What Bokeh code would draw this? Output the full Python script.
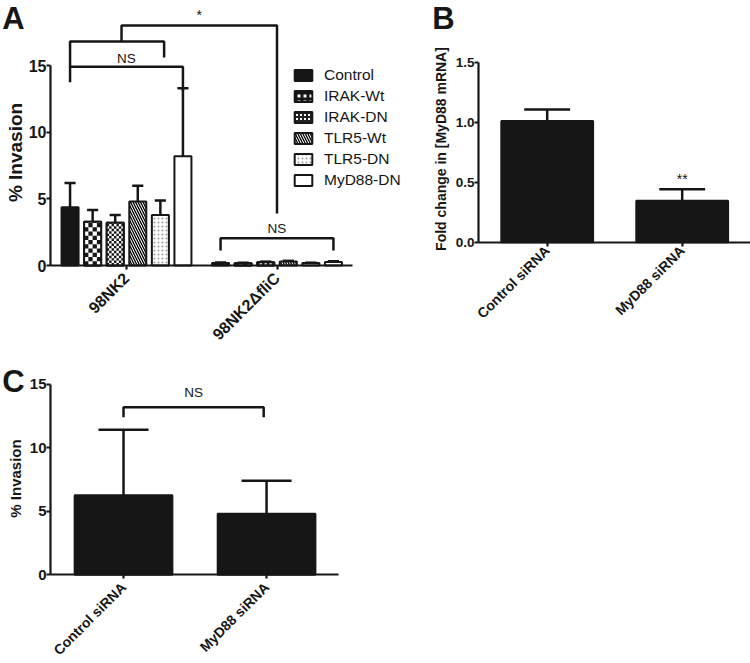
import math
from bokeh.plotting import figure
from bokeh.models import (ColumnDataSource, FixedTicker, Legend, LegendItem,
                          Label, NumeralTickFormatter)
from bokeh.layouts import row, column
from bokeh.embed import file_html
from bokeh.resources import INLINE
from bokeh.core.properties import value

FONT = "Liberation Sans"

# ---------------- data ----------------
# Panel A: % invasion, six constructs in two strains
groups_a = ["98NK2", "98NK2\u0394fliC"]
series_a = ["Control", "IRAK-Wt", "IRAK-DN", "TLR5-Wt", "TLR5-DN", "MyD88-DN"]
mean_98nk2 = [4.37, 3.28, 3.20, 4.80, 3.79, 8.20]
sem_98nk2 = [1.82, 0.89, 0.59, 1.18, 1.08, 5.10]
mean_dflic = [0.18, 0.17, 0.25, 0.30, 0.18, 0.27]
sem_dflic = [0.04, 0.03, 0.04, 0.05, 0.03, 0.05]

# Panel B: fold change in MyD88 mRNA
cats_b = ["Control siRNA", "MyD88 siRNA"]
mean_b = [1.01, 0.345]
sem_b = [0.095, 0.097]

# Panel C: % invasion after siRNA
cats_c = ["Control siRNA", "MyD88 siRNA"]
mean_c = [6.27, 4.80]
sem_c = [5.15, 2.60]

BLACK = "#161616"


def style(p, fs_tick, fs_xtick, x_standoff):
    p.xgrid.visible = False
    p.ygrid.visible = False
    p.outline_line_color = None
    for ax in (p.xaxis[0], p.yaxis[0]):
        ax.axis_line_width = 2.2
        ax.axis_line_color = BLACK
        ax.major_tick_line_width = 2.2
        ax.major_tick_line_color = BLACK
        ax.major_tick_out = 4
        ax.major_tick_in = 0
        ax.minor_tick_line_color = None
        ax.major_label_text_font = FONT
        ax.major_label_text_font_style = "bold"
        ax.major_label_text_color = BLACK
        ax.major_label_standoff = 0
    p.yaxis[0].major_label_text_font_size = fs_tick
    p.xaxis[0].major_label_text_font_size = fs_xtick
    p.xaxis[0].major_label_standoff = x_standoff
    p.xaxis[0].major_label_orientation = math.pi / 4
    p.xaxis[0].fixed_location = 0


def add_errors(p, x, top, err, cap_half, lw=2.5):
    caps = [t + e for t, e in zip(top, err)]
    src = ColumnDataSource(dict(x=x, top=top, cap=caps,
                                xl=[v - cap_half for v in x],
                                xr=[v + cap_half for v in x]))
    p.segment(x0="x", y0="top", x1="x", y1="cap", source=src,
              line_color=BLACK, line_width=lw)
    p.segment(x0="xl", y0="cap", x1="xr", y1="cap", source=src,
              line_color=BLACK, line_width=lw)
    return caps


def add_text(p, text, x, y, size, angle=0.0, align="left"):
    p.add_layout(Label(x=x, y=y, x_units="screen", y_units="screen", text=text,
                       angle=angle, text_font=FONT, text_font_size=size,
                       text_font_style="bold", text_color=BLACK,
                       text_align=align, text_baseline="middle"))


def add_sig(p, xs, ys, texts, size):
    p.text(x=xs, y=ys, text=texts, text_font=value(FONT), text_font_size=size,
           text_color=BLACK, text_align="center", text_baseline="middle")


def checker_cells(xs, tops, width, ncols, cell_h):
    """Black cells of a checkerboard fill inside each bar."""
    left, right, bottom, top = [], [], [], []
    cw = width / ncols
    for xc, t in zip(xs, tops):
        x0 = xc - width / 2
        nrows = int(math.ceil(t / cell_h))
        for r in range(nrows):
            y0 = r * cell_h
            y1 = min(t, y0 + cell_h)
            for c in range(ncols):
                if (r + c) % 2 == 0:
                    left.append(x0 + c * cw)
                    right.append(x0 + (c + 1) * cw)
                    bottom.append(y0)
                    top.append(y1)
    return dict(left=left, right=right, bottom=bottom, top=top)


# ---------------- Panel A ----------------
STEP = 0.15
BW = 0.113
PYA = 13.333    # px per y unit


def bx(g, i):
    return g + (i - (len(series_a) - 1) / 2) * STEP


pa = figure(width=425, height=345, x_range=(0.1628, 2.9867), y_range=(-6.0, 19.875),
            output_backend="svg", toolbar_location=None, title=None,
            min_border_left=0, min_border_right=0, min_border_top=0,
            min_border_bottom=0)
pa.frame_align = False
style(pa, "16px", "16px", 6)
pa.yaxis[0].fixed_location = 0.495
pa.yaxis[0].ticker = FixedTicker(ticks=[0, 5, 10, 15])
pa.yaxis[0].bounds = (0, 15)
pa.xaxis[0].ticker = FixedTicker(ticks=[1, 2], minor_ticks=[])
pa.xaxis[0].major_label_overrides = {1: groups_a[0], 2: groups_a[1]}
pa.xaxis[0].bounds = (0.495, 2.502)

hatch_styles = {
    0: dict(fill_color=BLACK),
    3: dict(fill_color="white", hatch_pattern="left_diagonal_line", hatch_scale=5,
            hatch_weight=1.3, hatch_color="black"),
    4: dict(fill_color="white", hatch_pattern="dot", hatch_scale=4,
            hatch_color="#9a9a9a"),
    5: dict(fill_color="white"),
}
checker_setup = {1: (4, 4.25 / PYA), 2: (7, 2.45 / PYA)}
legend_look = {
    1: dict(fill_color="white", hatch_pattern="cross", hatch_scale=6,
            hatch_weight=3, hatch_color=BLACK),
    2: dict(fill_color="white", hatch_pattern="cross", hatch_scale=4,
            hatch_weight=2, hatch_color="#222222"),
}

legend_items = []
for i, name in enumerate(series_a):
    xs = [bx(1, i), bx(2, i)]
    tops = [mean_98nk2[i], mean_dflic[i]]
    errs = [sem_98nk2[i], sem_dflic[i]]
    add_errors(pa, xs, tops, errs, 0.037)
    if i in checker_setup:
        ncols, ch = checker_setup[i]
        # look used for the legend swatch (covered by the checker fill below)
        look = pa.vbar(x=xs, top=tops, bottom=0, width=BW, line_color=BLACK,
                       line_width=2, **legend_look[i])
        pa.vbar(x=xs, top=tops, bottom=0, width=BW, fill_color="white",
                line_color=None)
        pa.quad(source=ColumnDataSource(checker_cells(xs, tops, BW, ncols, ch)),
                left="left", right="right", bottom="bottom", top="top",
                fill_color=BLACK, line_color=None)
        pa.vbar(x=xs, top=tops, bottom=0, width=BW, fill_color=None,
                line_color=BLACK, line_width=2)
        legend_items.append(LegendItem(label=name, renderers=[look]))
    else:
        r = pa.vbar(x=xs, top=tops, bottom=0, width=BW, line_color=BLACK,
                    line_width=2, **hatch_styles[i])
        legend_items.append(LegendItem(label=name, renderers=[r]))

legend = Legend(items=legend_items, location=(292, 156), orientation="vertical",
                border_line_color=None, background_fill_alpha=0,
                glyph_width=22, glyph_height=14, label_height=14,
                label_standoff=10, spacing=3, padding=0, margin=0,
                label_text_font=FONT, label_text_font_size="15.5px",
                label_text_color=BLACK)
pa.add_layout(legend)

# significance brackets (A)
top_star_x0 = 0.967
upper_ns_x1 = 1.25
brk_xs = [
    [bx(1, 0), bx(1, 0), bx(1, 5), bx(1, 5)],
    [bx(1, 0), bx(1, 0), upper_ns_x1, upper_ns_x1],
    [top_star_x0, top_star_x0, 2.0, 2.0],
    [bx(2, 0), bx(2, 0), bx(2, 5), bx(2, 5)],
]
brk_ys = [
    [13.75, 14.9, 14.9, 13.1],
    [14.9, 16.8, 16.8, 15.6],
    [16.8, 18.0, 18.0, 3.9],
    [1.13, 2.05, 2.05, 1.13],
]
pa.multi_line(xs=brk_xs, ys=brk_ys, line_color=BLACK, line_width=2.5)
add_sig(pa, [1.0, 2.0], [15.5, 2.75], ["NS", "NS"], "13.5px")
add_sig(pa, [(top_star_x0 + 2.0) / 2], [18.77], ["*"], "14px")
add_text(pa, "A", 1.7, 327.5, "31px")
add_text(pa, "% Invasion", 15, 193, "19px", angle=math.pi / 2, align="center")

# ---------------- Panel B ----------------
pb = figure(width=325, height=345, x_range=(0.0985, 2.506), y_range=(-0.861, 2.014),
            output_backend="svg", toolbar_location=None, title=None,
            min_border_left=0, min_border_right=0, min_border_top=0,
            min_border_bottom=0)
pb.frame_align = False
style(pb, "13.5px", "14px", 2)
pb.yaxis[0].fixed_location = 0.4911
pb.yaxis[0].ticker = FixedTicker(ticks=[0, 0.5, 1.0, 1.5])
pb.yaxis[0].formatter = NumeralTickFormatter(format="0.0")
pb.yaxis[0].bounds = (0, 1.5)
pb.xaxis[0].ticker = FixedTicker(ticks=[1, 2], minor_ticks=[])
pb.xaxis[0].major_label_overrides = {1: cats_b[0], 2: cats_b[1]}
pb.xaxis[0].bounds = (0.4911, 2.506)
xb = [1, 2]
caps_b = add_errors(pb, xb, mean_b, sem_b, 0.17)
pb.vbar(x=xb, top=mean_b, bottom=0, width=0.68, fill_color=BLACK,
        line_color=BLACK, line_width=2)
add_sig(pb, [xb[1]], [caps_b[1] + 0.083], ["**"], "14px")
add_text(pb, "B", 6.7, 327.5, "31px")
add_text(pb, "Fold change in [MyD88 mRNA]", 15, 196.5, "14px",
         angle=math.pi / 2, align="center")

# ---------------- Panel C ----------------
pc = figure(width=345, height=318, x_range=(0.1399, 2.552), y_range=(-6.984, 18.055),
            output_backend="svg", toolbar_location=None, title=None,
            min_border_left=0, min_border_right=0, min_border_top=0,
            min_border_bottom=0)
pc.frame_align = False
style(pc, "15px", "14px", 6)
pc.yaxis[0].fixed_location = 0.4895
pc.yaxis[0].ticker = FixedTicker(ticks=[0, 5, 10, 15])
pc.yaxis[0].bounds = (0, 15)
pc.xaxis[0].ticker = FixedTicker(ticks=[1, 2], minor_ticks=[])
pc.xaxis[0].major_label_overrides = {1: cats_c[0], 2: cats_c[1]}
pc.xaxis[0].bounds = (0.4895, 2.503)
xc = [1, 2]
add_errors(pc, xc, mean_c, sem_c, 0.175)
pc.vbar(x=xc, top=mean_c, bottom=0, width=0.683, fill_color=BLACK,
        line_color=BLACK, line_width=2)
pc.multi_line(xs=[[1.0, 1.0, 1.98, 1.98]], ys=[[12.4, 13.2, 13.2, 12.4]],
              line_color=BLACK, line_width=2.5)
add_sig(pc, [1.49], [14.33], ["NS"], "13.5px")
add_text(pc, "C", 1.7, 282, "31px")
add_text(pc, "% Invasion", 15, 185, "15px", angle=math.pi / 2, align="center")

layout = column(row(pa, pb), pc)
open("out.html", "w").write(file_html(layout, INLINE))
